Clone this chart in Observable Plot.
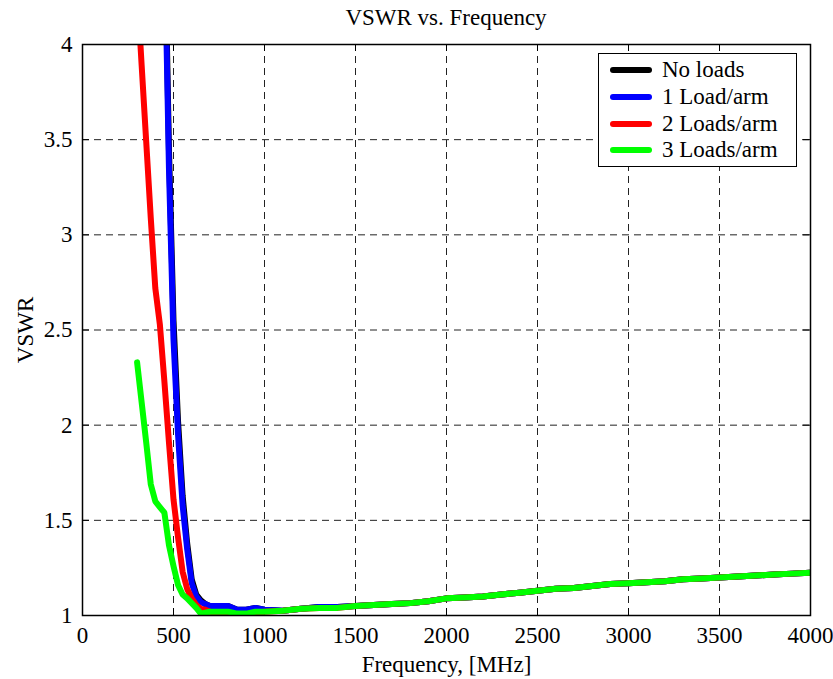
<!DOCTYPE html>
<html>
<head>
<meta charset="utf-8">
<script src="https://cdn.jsdelivr.net/npm/d3@7"></script>
<script src="https://cdn.jsdelivr.net/npm/@observablehq/plot@0.6"></script>
<style>
  html, body { margin: 0; padding: 0; background: #fff; }
  #wrap { position: relative; width: 833px; height: 679px; font-family: "Liberation Serif", "Times New Roman", serif; }
  #title { height: 33px; padding-top: 3px; box-sizing: border-box; line-height: 30px; font-size: 23px; text-align: center; padding-left: 59px; color: #000; }
  #legend { position: absolute; left: 598px; top: 53px; width: 199px; height: 114px; box-sizing: border-box; border: 1.5px solid #000; background: #fff; padding-top: 3px; }
  .row { height: 26.7px; display: flex; align-items: center; font-size: 23px; color: #000; }
  .sw { width: 42px; height: 6px; border-radius: 3px; margin-left: 11px; margin-right: 10px; }
</style>
</head>
<body>
<div id="wrap">
  <div id="title">VSWR vs. Frequency</div>
  <div id="chart"></div>
  <div id="legend"></div>
</div>
<script>
const freq = [300,325,350,375,400,425,450,475,500,525,550,575,600,625,650,675,700,750,800,850,900,950,1000,
  1100,1200,1300,1400,1500,1600,1700,1800,1900,2000,2100,2200,2300,2400,2500,2600,2700,2800,2900,3000,
  3100,3200,3300,3400,3500,3600,3700,3800,3900,4000];

const noLoads = [null,null,null,null,null,null,4.7,3.45,2.55,2.02,1.63,1.38,1.19,1.11,1.08,1.06,1.05,1.05,1.05,1.03,1.03,1.04,1.03,
  1.025,1.035,1.045,1.045,1.05,1.055,1.06,1.065,1.075,1.09,1.095,1.10,1.11,1.12,1.13,1.14,1.145,1.155,1.165,1.17,
  1.175,1.18,1.19,1.195,1.20,1.205,1.21,1.215,1.22,1.225];
const oneLoad = [null,null,null,null,null,null,4.6,3.35,2.45,1.95,1.58,1.35,1.17,1.10,1.07,1.06,1.05,1.05,1.05,1.03,1.03,1.04,1.03,
  1.025,1.035,1.045,1.045,1.05,1.055,1.06,1.065,1.075,1.09,1.095,1.10,1.11,1.12,1.13,1.14,1.145,1.155,1.165,1.17,
  1.175,1.18,1.19,1.195,1.20,1.205,1.21,1.215,1.22,1.225];
const twoLoads = [4.3,3.89,3.49,3.09,2.72,2.53,2.23,1.91,1.61,1.41,1.23,1.14,1.09,1.055,1.035,1.03,1.02,1.01,1.00,1.00,1.005,1.01,1.02,
  1.025,1.035,1.04,1.04,1.05,1.055,1.06,1.065,1.075,1.09,1.095,1.10,1.11,1.12,1.13,1.14,1.145,1.155,1.165,1.17,
  1.175,1.18,1.19,1.195,1.20,1.205,1.21,1.215,1.22,1.225];
const threeLoads = [2.33,2.12,1.91,1.69,1.60,1.57,1.54,1.37,1.26,1.16,1.11,1.09,1.065,1.04,1.01,1.015,1.02,1.02,1.02,1.01,1.01,1.02,1.02,
  1.025,1.035,1.04,1.04,1.05,1.055,1.06,1.065,1.075,1.09,1.095,1.10,1.11,1.12,1.13,1.14,1.145,1.155,1.165,1.17,
  1.175,1.18,1.19,1.195,1.20,1.205,1.21,1.215,1.22,1.225];

const seriesNames = ["No loads", "1 Load/arm", "2 Loads/arm", "3 Loads/arm"];
const seriesColors = ["#000000", "#0000ff", "#ff0000", "#00ff00"];
const seriesValues = [noLoads, oneLoad, twoLoads, threeLoads];

const xTicks = [0,500,1000,1500,2000,2500,3000,3500,4000];
const yTicks = [1,1.5,2,2.5,3,3.5,4];

const W = 833, H = 646;
const mTop = 11, mBottom = 64, mLeft = 82, mRight = 23;
const plotH = H - mTop - mBottom, plotW = W - mLeft - mRight;
const tickLen = 7;

const lineMarks = seriesValues.map((vals, i) => {
  const rows = freq.map((f, j) => ({f, v: vals[j]})).filter(d => d.v != null);
  return Plot.line(rows, {x: "f", y: "v", stroke: seriesColors[i], strokeWidth: 6,
    strokeLinejoin: "round", strokeLinecap: "round", clip: true});
});

const chart = Plot.plot({
  width: W, height: H,
  marginTop: mTop, marginBottom: mBottom, marginLeft: mLeft, marginRight: mRight,
  style: {fontFamily: "'Liberation Serif', 'Times New Roman', serif", fontSize: "23px", color: "#000", background: "#fff", overflow: "visible"},
  x: {domain: [0, 4000]},
  y: {domain: [1, 4]},
  marks: [
    Plot.gridX(xTicks, {stroke: "#222", strokeOpacity: 1, strokeDasharray: "7,5", strokeWidth: 1}),
    Plot.gridY(yTicks, {stroke: "#222", strokeOpacity: 1, strokeDasharray: "7,5", strokeWidth: 1}),
    Plot.tickX(xTicks, {x: d => d, stroke: "#000", insetTop: plotH - tickLen}),
    Plot.tickX(xTicks, {x: d => d, stroke: "#000", insetBottom: plotH - tickLen}),
    Plot.tickY(yTicks, {y: d => d, stroke: "#000", insetRight: plotW - tickLen}),
    Plot.tickY(yTicks, {y: d => d, stroke: "#000", insetLeft: plotW - tickLen}),
    ...lineMarks,
    Plot.frame({stroke: "#000", strokeWidth: 1.5}),
    Plot.axisX(xTicks, {anchor: "bottom", tickSize: 0, tickPadding: 11, fontSize: 23, tickFormat: d3.format("d"), label: "Frequency, [MHz]", labelAnchor: "center", labelArrow: "none", labelOffset: 56}),
    Plot.axisY(yTicks, {anchor: "left", tickSize: 0, tickPadding: 10, fontSize: 23, tickFormat: d3.format(""), label: "VSWR", labelAnchor: "center", labelArrow: "none", labelOffset: 66})
  ]
});
document.getElementById("chart").appendChild(chart);

const legend = document.getElementById("legend");
seriesNames.forEach((name, i) => {
  const row = document.createElement("div");
  row.className = "row";
  const sw = document.createElement("span");
  sw.className = "sw";
  sw.style.background = seriesColors[i];
  const t = document.createElement("span");
  t.textContent = name;
  row.appendChild(sw);
  row.appendChild(t);
  legend.appendChild(row);
});
</script>
</body>
</html>
